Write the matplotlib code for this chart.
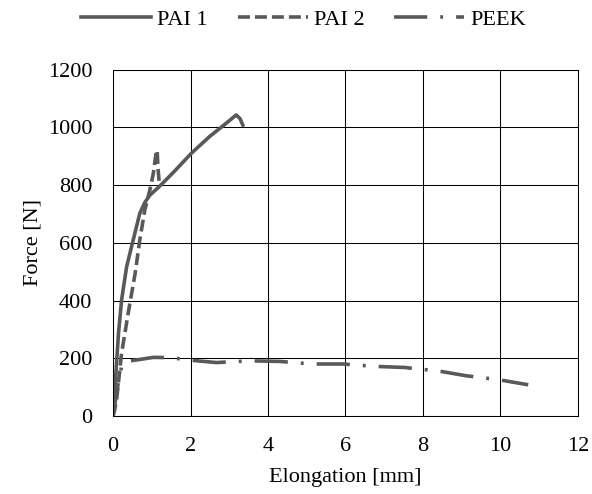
import matplotlib.pyplot as plt

plt.rcParams['font.family'] = ['Liberation Serif', 'DejaVu Serif']

# Data
pai1_x = [0, 0.02, 0.05, 0.14, 0.22, 0.35, 0.52, 0.69, 0.82, 0.95, 1.21, 1.6, 2.02, 2.49, 2.9, 3.18, 3.28, 3.35]
pai1_y = [0, 40, 101, 286, 402, 517, 610, 702, 740, 765, 797, 850, 910, 968, 1012, 1043, 1030, 1008]

pai2_x = [0, 0.04, 0.09, 0.22, 0.39, 0.57, 0.69, 0.82, 0.95, 1.04, 1.12, 1.14, 1.16, 1.19]
pai2_y = [0, 20, 55, 217, 356, 494, 610, 714, 783, 841, 921, 915, 858, 812]

peek_x = [0, 0.1, 0.22, 0.31, 1.04, 1.5, 1.94, 2.67, 3.1, 3.54, 4.3, 5.13, 5.94, 6.72, 7.53, 7.92, 8.35, 9.13, 9.94, 10.72]
peek_y = [0, 90, 171, 188, 203, 202, 194, 185, 188, 191, 189, 180, 180, 172, 168, 162, 157, 139, 126, 108]

grey = '#595959'
fs = 16

fig = plt.figure(figsize=(5.92, 4.94), dpi=100)
ax = fig.add_axes([0.191, 0.158, 0.785, 0.701])

ax.plot(pai1_x, pai1_y, color=grey, lw=2.6, label='PAI 1')
ax.plot(pai2_x, pai2_y, color=grey, lw=2.6, linestyle=(0, (3.3, 1.4)), label='PAI 2')
ax.plot(peek_x, peek_y, color=grey, lw=2.6, linestyle=(0, (9.2, 3.6, 0.8, 3.6)), label='PEEK')

ax.set_xlim(0, 12)
ax.set_ylim(0, 1200)
ax.set_xticks(range(0, 13, 2))
ax.set_yticks(range(0, 1201, 200))
ax.grid(True, color='black', lw=0.75)
ax.set_axisbelow(True)
for s in ax.spines.values():
    s.set_color('black')
    s.set_linewidth(0.75)
ax.tick_params(length=0, labelsize=fs)
ax.tick_params(axis='y', pad=15)
ax.tick_params(axis='x', pad=15)

ax.set_xlabel('Elongation [mm]', fontsize=fs, labelpad=9)
ax.set_ylabel('Force [N]', fontsize=fs, labelpad=4)

fig.legend(loc='center', bbox_to_anchor=(0.513, 0.96), ncol=3, frameon=False,
           fontsize=fs, handlelength=3.15, columnspacing=1.35, handletextpad=0.27,
           borderpad=0, borderaxespad=0)

fig.savefig('out.png', dpi=100)
